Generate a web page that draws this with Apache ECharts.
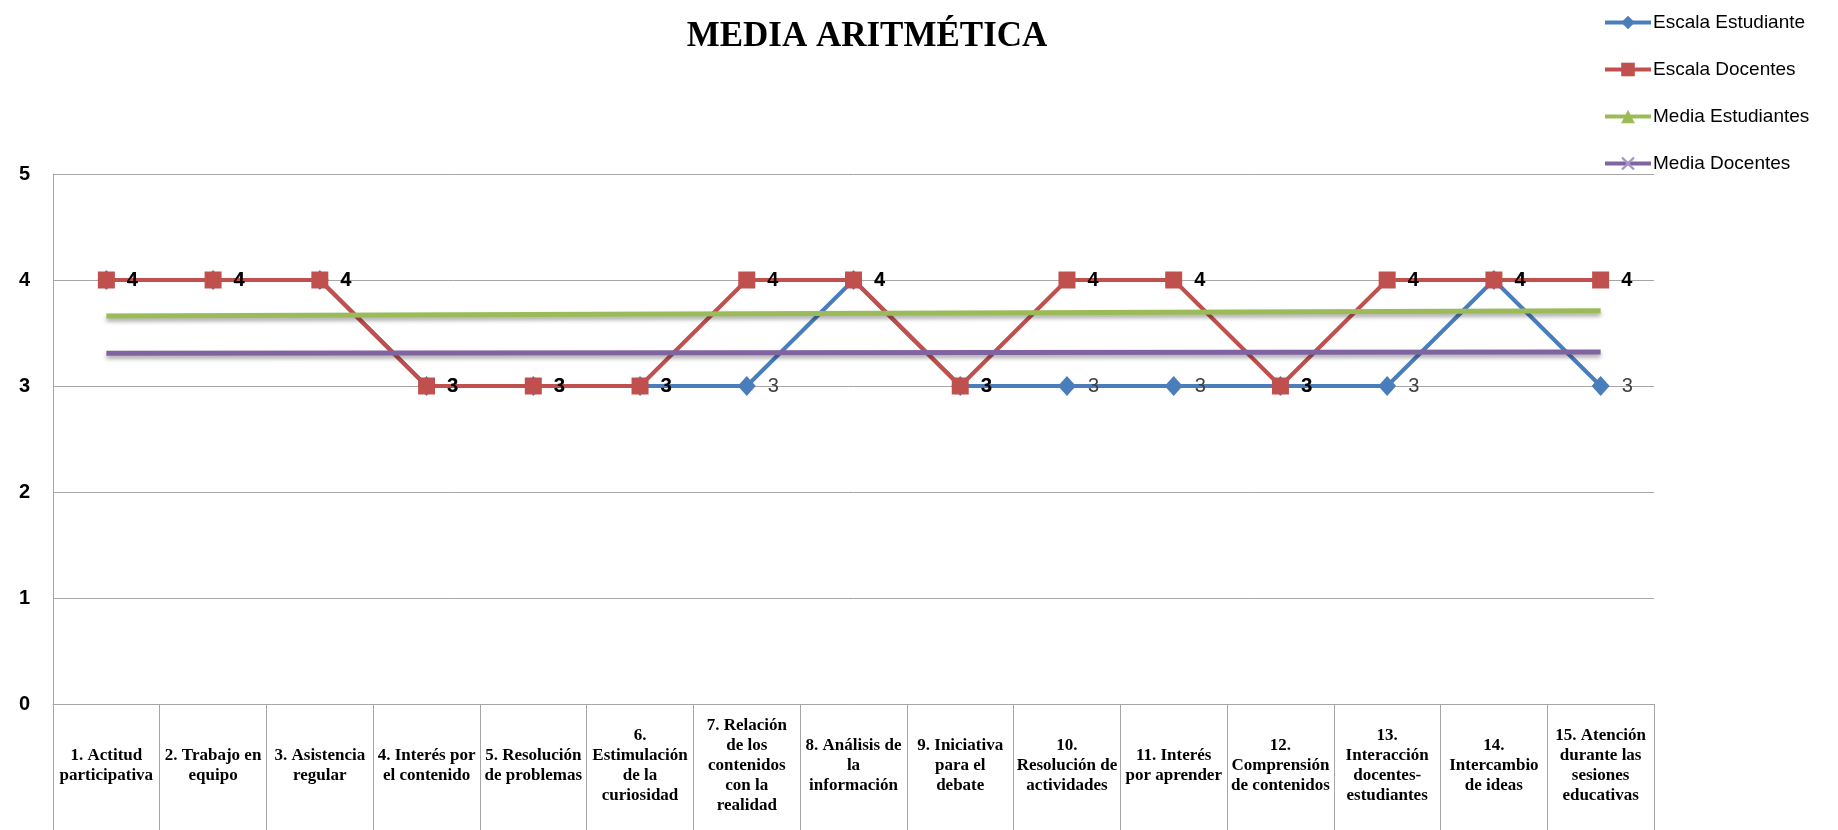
<!DOCTYPE html>
<html>
<head>
<meta charset="utf-8">
<script src="https://cdn.jsdelivr.net/npm/echarts@6/dist/echarts.min.js"></script>
<style>
html,body{margin:0;padding:0;background:#fff;}
#chart{width:1838px;height:830px;}
</style>
</head>
<body>
<div id="chart"></div>
<script>
var titleText = 'MEDIA ARITMÉTICA';
var categories = [
  '1. Actitud\nparticipativa',
  '2. Trabajo en\nequipo',
  '3. Asistencia\nregular',
  '4. Interés por\nel contenido',
  '5. Resolución\nde problemas',
  '6.\nEstimulación\nde la\ncuriosidad',
  '7. Relación\nde los\ncontenidos\ncon la\nrealidad',
  '8. Análisis de\nla\ninformación',
  '9. Iniciativa\npara el\ndebate',
  '10.\nResolución de\nactividades',
  '11. Interés\npor aprender',
  '12.\nComprensión\nde contenidos',
  '13.\nInteracción\ndocentes-\nestudiantes',
  '14.\nIntercambio\nde ideas',
  '15. Atención\ndurante las\nsesiones\neducativas'
];
var seriesNames = ['Escala Estudiante', 'Escala Docentes', 'Media Estudiantes', 'Media Docentes'];
var escalaEstudiante = [4, 4, 4, 3, 3, 3, 3, 4, 3, 3, 3, 3, 3, 4, 3];
var escalaDocentes   = [4, 4, 4, 3, 3, 3, 4, 4, 3, 4, 4, 3, 4, 4, 4];
var mediaEstudiantes = [3.66, null, null, null, null, null, null, null, null, null, null, null, null, null, 3.71];
var mediaDocentes    = [3.31, null, null, null, null, null, null, null, null, null, null, null, null, null, 3.32];
var yTicks = {min: 0, max: 5, interval: 1};

var chart = echarts.init(document.getElementById('chart'), null, {renderer: 'canvas'});
var gridColor = '#a6a6a6';
var xPath = 'path://M0,1.2L1.2,0L5,3.8L8.8,0L10,1.2L6.2,5L10,8.8L8.8,10L5,6.2L1.2,10L0,8.8L3.8,5Z';

var option = {
  backgroundColor: '#ffffff',
  animation: false,
  title: {
    text: titleText,
    left: 862,
    top: 14,
    textAlign: 'center',
    textStyle: {
      fontFamily: '"Liberation Serif", "Times New Roman", serif',
      fontWeight: 'bold',
      fontSize: 35,
      color: '#000'
    }
  },
  legend: {
    orient: 'vertical',
    left: 1598,
    top: 8,
    itemWidth: 46,
    itemHeight: 17,
    itemGap: 28,
    data: seriesNames,
    lineStyle: {width: 4},
    textStyle: {
      fontFamily: '"Liberation Sans", Arial, sans-serif',
      fontSize: 19,
      lineHeight: 19,
      color: '#000',
      padding: [0, 0, 0, -3]
    }
  },
  grid: {left: 53, right: 184, top: 174, bottom: 126},
  xAxis: {
    type: 'category',
    data: categories,
    boundaryGap: true,
    axisLine: {show: true, lineStyle: {color: gridColor, width: 1}},
    axisTick: {show: true, interval: 0, length: 126, lineStyle: {color: gridColor, width: 1}},
    axisLabel: {
      interval: 0,
      margin: 62,
      verticalAlign: 'middle',
      align: 'center',
      fontFamily: '"Liberation Serif", "Times New Roman", serif',
      fontWeight: 'bold',
      fontSize: 17,
      lineHeight: 20,
      color: '#000'
    },
    splitLine: {show: false}
  },
  yAxis: {
    type: 'value',
    min: yTicks.min,
    max: yTicks.max,
    interval: yTicks.interval,
    axisLine: {show: true, lineStyle: {color: gridColor, width: 1}},
    axisTick: {show: false},
    axisLabel: {
      margin: 23,
      fontFamily: '"Liberation Sans", Arial, sans-serif',
      fontWeight: 'bold',
      fontSize: 20,
      color: '#000'
    },
    splitLine: {show: true, lineStyle: {color: gridColor, width: 1}}
  },
  series: [
    {
      name: seriesNames[0],
      type: 'line',
      data: escalaEstudiante,
      symbol: 'diamond',
      symbolSize: [18, 20],
      itemStyle: {color: '#4a7ebb'},
      lineStyle: {color: '#4a7ebb', width: 4},
      label: {
        show: true,
        position: 'right',
        distance: 12,
        fontFamily: '"Liberation Sans", Arial, sans-serif',
        fontSize: 20,
        color: '#404040'
      },
      z: 2
    },
    {
      name: seriesNames[1],
      type: 'line',
      data: escalaDocentes,
      symbol: 'rect',
      symbolSize: 17,
      itemStyle: {color: '#c0504d'},
      lineStyle: {color: '#c0504d', width: 4},
      label: {
        show: true,
        position: 'right',
        distance: 12,
        fontFamily: '"Liberation Sans", Arial, sans-serif',
        fontWeight: 'bold',
        fontSize: 20,
        color: '#000'
      },
      z: 3
    },
    {
      name: seriesNames[2],
      type: 'line',
      data: mediaEstudiantes,
      connectNulls: true,
      symbol: 'triangle',
      symbolSize: 12,
      showSymbol: false,
      itemStyle: {color: '#9bbb59'},
      lineStyle: {color: '#9bbb59', width: 5, shadowColor: 'rgba(0,0,0,0.35)', shadowBlur: 4, shadowOffsetY: 3},
      z: 4
    },
    {
      name: seriesNames[3],
      type: 'line',
      data: mediaDocentes,
      connectNulls: true,
      symbol: xPath,
      symbolSize: 12,
      showSymbol: false,
      itemStyle: {color: '#a895c8'},
      lineStyle: {color: '#8064a2', width: 5, shadowColor: 'rgba(0,0,0,0.35)', shadowBlur: 4, shadowOffsetY: 3},
      z: 4
    }
  ]
};
chart.setOption(option);
</script>
</body>
</html>
